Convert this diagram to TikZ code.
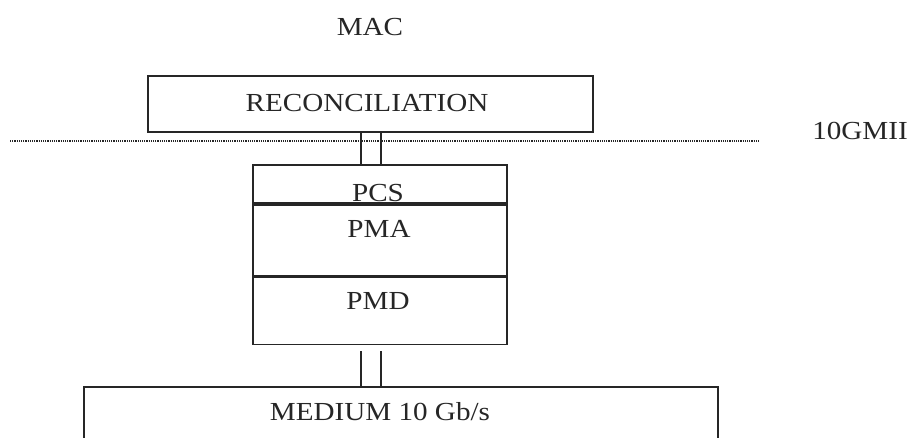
\documentclass[tikz,border=0pt]{standalone}
\usepackage{fontspec}
\newfontfamily\layerfont[FakeStretch=1.12]{Liberation Serif}
\usepackage{tikz}
\usetikzlibrary{calc}

\begin{document}
\begin{tikzpicture}[x=1pt, y=-1pt,
    lbl/.style={font=\layerfont\fontsize{26}{28}\selectfont, text=black!85, inner sep=0pt},
    layer/.style={draw=black!85, line width=1.8pt, inner sep=0pt},
    wire/.style={draw=black!85, line width=1.8pt}]
  \useasboundingbox (0,0) rectangle (911,438);
  \clip (0,0) rectangle (911,438);

  % MAC and reconciliation
  \node[lbl] (mac) at (370,27) {MAC};
  \node[layer, minimum width=445, minimum height=56] (recon) at (370.5,104) {};
  \node[lbl] (recontxt) at (367,103) {RECONCILIATION};

  % 10GMII boundary
  \coordinate (gmiil) at (10,141);
  \coordinate (gmiir) at (760,141);
  \draw[black!85, line width=1.6pt, dash pattern=on 1.2pt off 1pt] (gmiil) -- (gmiir);
  \node[lbl] (gmii) at (860,131) {10GMII};

  % PHY stack
  \node[layer, minimum width=254, minimum height=38] (pcs) at (380,184) {};
  \node[layer, minimum width=254, minimum height=71, anchor=north] (pma) at (pcs.south) {};
  \node[layer, minimum width=254, minimum height=67, anchor=north] (pmd) at (pma.south) {};
  \node[lbl] (pcstxt) at (378,193) {PCS};
  \node[lbl] (pmatxt) at (379,229) {PMA};
  \node[lbl] (pmdtxt) at (378,301) {PMD};

  % medium
  \node[layer, minimum width=634, minimum height=90, anchor=north] (medium) at (401,386) {};
  \node[lbl] (mediumtxt) at (380,412) {MEDIUM 10 Gb/s};

  % wires
  \coordinate (w1) at (361,0);
  \coordinate (w2) at (381,0);
  \draw[wire] (recon.south -| w1) -- (pcs.north -| w1);
  \draw[wire] (recon.south -| w2) -- (pcs.north -| w2);
  \draw[wire] ([yshift=-6pt]pmd.south -| w1) -- (medium.north -| w1);
  \draw[wire] ([yshift=-6pt]pmd.south -| w2) -- (medium.north -| w2);
\end{tikzpicture}
\end{document}
